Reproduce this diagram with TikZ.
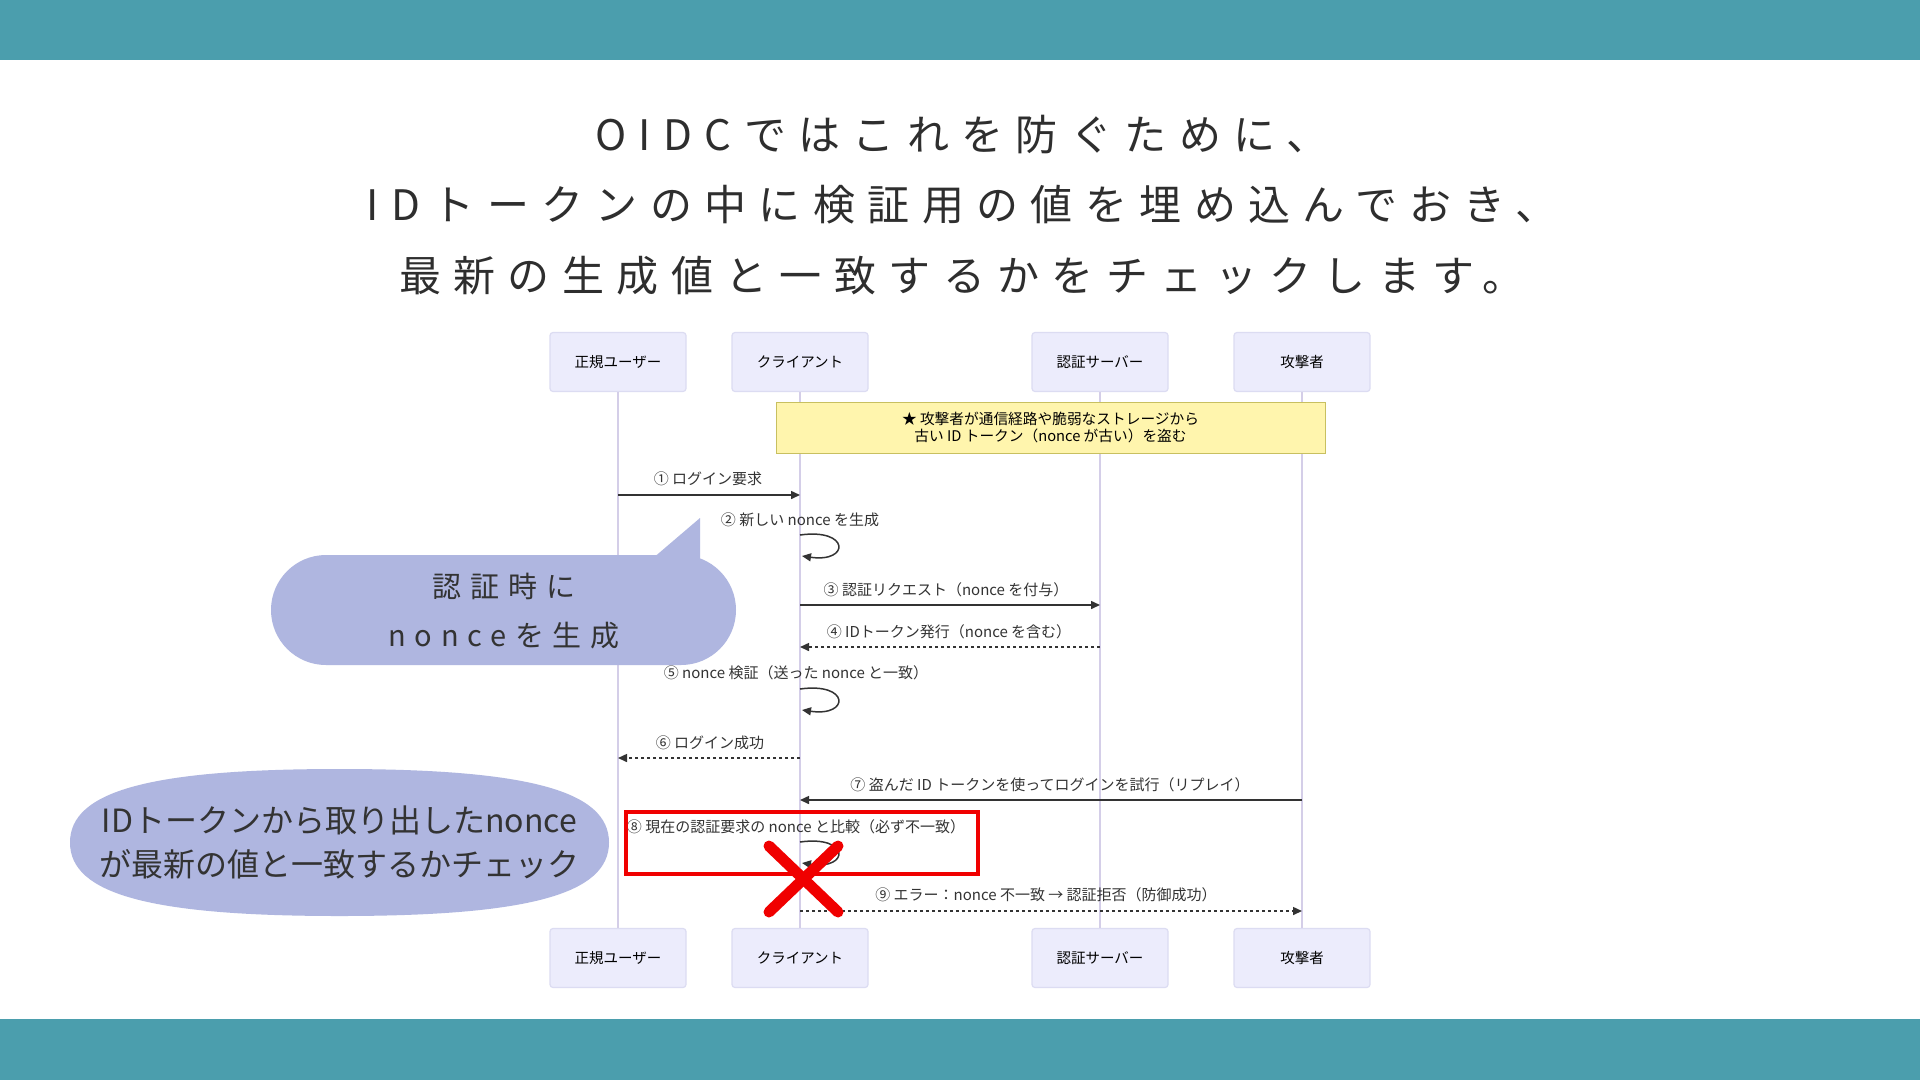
\documentclass[tikz,border=0pt]{standalone}
\usepackage{fontspec}
\setmainfont{Noto Sans CJK JP}
\newfontfamily\titlefont[LetterSpace=29.5]{Noto Sans CJK JP}
\newfontfamily\bubblefont[LetterSpace=30]{Noto Sans CJK JP}
\usetikzlibrary{arrows.meta}
\definecolor{band}{HTML}{4B9EAD}
\definecolor{actfill}{HTML}{ECECFC}
\definecolor{actdraw}{HTML}{DCDCF2}
\definecolor{lifec}{HTML}{D4CEE8}
\definecolor{notefill}{HTML}{FFF5AD}
\definecolor{notedraw}{HTML}{C8C060}
\definecolor{ink}{HTML}{333333}
\definecolor{bub}{HTML}{AFB6E0}
\definecolor{hired}{HTML}{F00000}
\tikzset{
  actor/.style={draw=actdraw, line width=1.2pt, fill=actfill, rounded corners=3pt,
    minimum width=136pt, minimum height=59pt, inner sep=0pt,
    font=\fontsize{14.5}{17}\selectfont, text=black},
  life/.style={draw=lifec, line width=1.5pt},
  msg/.style={draw=ink, line width=1.5pt, -{Triangle[length=9pt,width=8pt]}},
  reply/.style={msg, dash pattern=on 3pt off 3pt},
  lbl/.style={font=\fontsize{15}{17}\selectfont, text=ink, inner sep=0pt},
  titletext/.style={font=\titlefont\fontsize{42}{50}\selectfont, text=ink!90!black, inner sep=0pt},
  bubtext/.style={font=\fontsize{32}{44}\selectfont, text=ink, inner sep=0pt, align=center},
  redx/.style={draw=hired, line width=11pt, line cap=round},
}
\begin{document}
\begin{tikzpicture}[x=1pt,y=-1pt]
\useasboundingbox (0,0) rectangle (1920,1080);
\fill[white] (0,0) rectangle (1920,1080);
\fill[band] (0,0) rectangle (1920,60);
\fill[band] (0,1019) rectangle (1920,1080);

% title
\node[titletext] (t1) at (962,135) {OIDCではこれを防ぐために、};
\node[titletext] (t2) at (962,205) {IDトークンの中に検証用の値を埋め込んでおき、};
\node[titletext] (t3) at (962,276) {最新の生成値と一致するかをチェックします。};

% participants
\node[actor] (uT) at (618,362) {正規ユーザー};
\node[actor] (cT) at (800,362) {クライアント};
\node[actor] (sT) at (1100,362) {認証サーバー};
\node[actor] (aT) at (1302,362) {攻撃者};
\node[actor] (uB) at (618,958) {正規ユーザー};
\node[actor] (cB) at (800,958) {クライアント};
\node[actor] (sB) at (1100,958) {認証サーバー};
\node[actor] (aB) at (1302,958) {攻撃者};

\draw[life] (uT.south) -- (uB.north);
\draw[life] (cT.south) -- (cB.north);
\draw[life] (sT.south) -- (sB.north);
\draw[life] (aT.south) -- (aB.north);

% note
\node[draw=notedraw, line width=1pt, fill=notefill, minimum width=549pt, minimum height=51pt,
  inner sep=0pt, align=center, font=\fontsize{14.7}{17}\selectfont, text=black] (note) at (1050.5,427.5)
  {★ 攻撃者が通信経路や脆弱なストレージから\\古い ID トークン（nonce が古い）を盗む};

% message coordinates
\coordinate (m1a) at (618,495);  \coordinate (m1b) at (800,495);
\coordinate (m2a) at (800,535);  \coordinate (m2b) at (802,556);
\coordinate (m3a) at (800,605);  \coordinate (m3b) at (1100,605);
\coordinate (m4a) at (1100,647); \coordinate (m4b) at (800,647);
\coordinate (m5a) at (800,689);  \coordinate (m5b) at (802,710);
\coordinate (m6a) at (800,758);  \coordinate (m6b) at (618,758);
\coordinate (m7a) at (1302,800); \coordinate (m7b) at (800,800);
\coordinate (m8a) at (800,842);  \coordinate (m8b) at (802,863);
\coordinate (m9a) at (800,911);  \coordinate (m9b) at (1302,911);

\draw[msg] (m1a) -- (m1b);
\node[lbl] (l1) at (708,479) {① ログイン要求};
\draw[msg] (m2a) .. controls (850,528) and (850,563) .. (m2b);
\node[lbl] (l2) at (800,520) {② 新しい nonce を生成};
\draw[msg] (m3a) -- (m3b);
\node[lbl] (l3) at (946,590) {③ 認証リクエスト（nonce を付与）};
\draw[reply] (m4a) -- (m4b);
\node[lbl] (l4) at (949,632) {④ IDトークン発行（nonce を含む）};
\draw[msg] (m5a) .. controls (850,682) and (850,717) .. (m5b);
\node[lbl] (l5) at (796,673) {⑤ nonce 検証（送った nonce と一致）};
\draw[reply] (m6a) -- (m6b);
\node[lbl] (l6) at (710,743) {⑥ ログイン成功};
\draw[msg] (m7a) -- (m7b);
\node[lbl] (l7) at (1050,785) {⑦ 盗んだ ID トークンを使ってログインを試行（リプレイ）};
\draw[msg] (m8a) .. controls (850,835) and (850,870) .. (m8b);
\node[lbl] (l8) at (796,827) {⑧ 現在の認証要求の nonce と比較（必ず不一致）};
\draw[reply] (m9a) -- (m9b);
\node[lbl] (l9) at (1046,895) {⑨ エラー：nonce 不一致 → 認証拒否（防御成功）};

% bubble 1
\fill[bub] (271,555) [rounded corners=55pt] rectangle (736,665);
\fill[bub] (652,559) -- (700,518) -- (700,575) -- cycle;
\node[bubtext, font=\bubblefont\fontsize{29}{49}\selectfont] (b1) at (504,611) {認証時に\\nonceを生成};

% bubble 2 (rounded ellipse)
\fill[bub] (70,842.5) .. controls (70,791) and (150,769) .. (339.5,769)
  .. controls (529,769) and (609,791) .. (609,842.5)
  .. controls (609,894) and (529,916) .. (339.5,916)
  .. controls (150,916) and (70,894) .. cycle;
\node[bubtext] (b2) at (339.5,842) {IDトークンから取り出したnonce\\が最新の値と一致するかチェック};

% highlight
\node[draw=hired, line width=4pt, minimum width=352pt, minimum height=62pt, inner sep=0pt] (hl) at (802,843) {};
\coordinate (x1) at (769,846); \coordinate (x2) at (838,912);
\coordinate (x3) at (838,846); \coordinate (x4) at (769,912);
\draw[redx] (x1) -- (x2);
\draw[redx] (x3) -- (x4);
\end{tikzpicture}
\end{document}
